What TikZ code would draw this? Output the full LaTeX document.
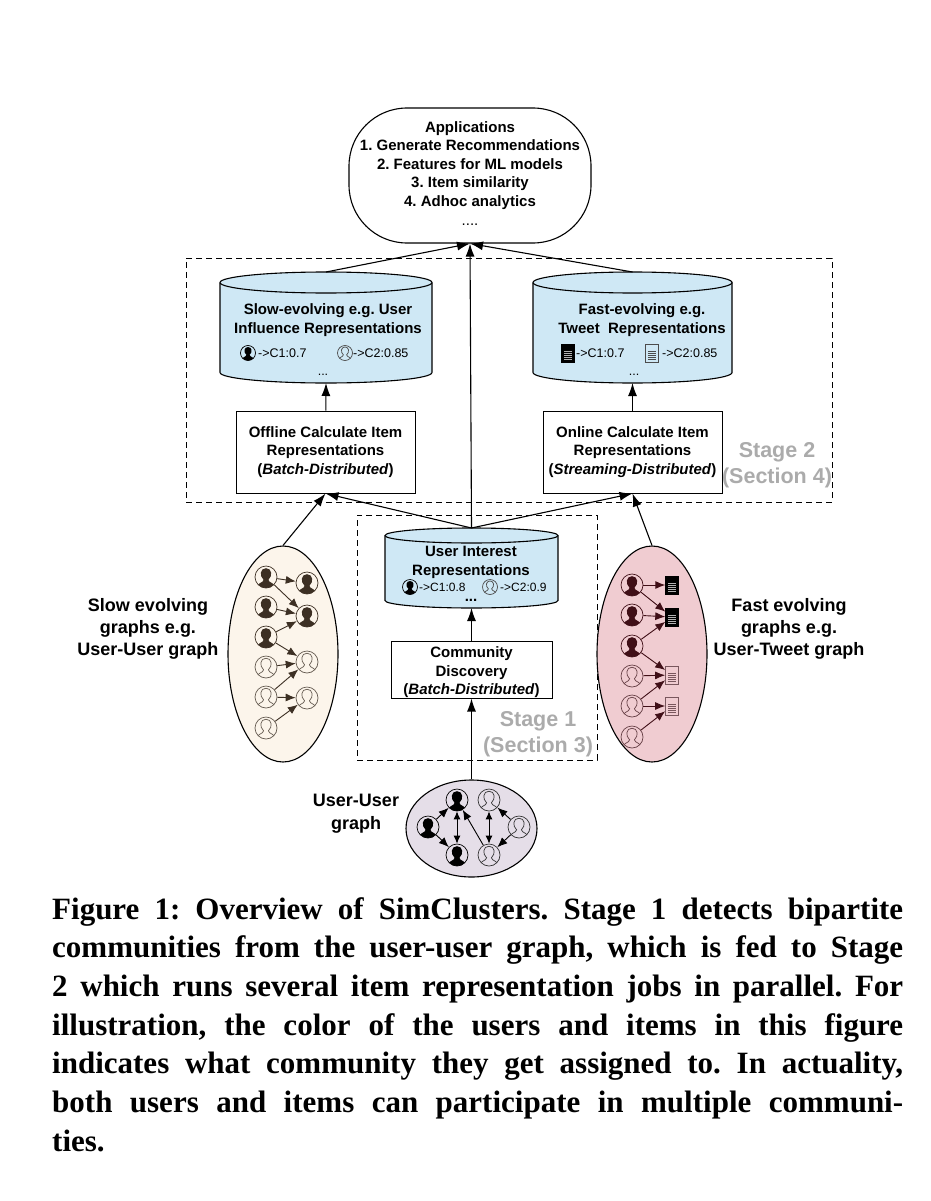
\documentclass[tikz,border=0pt]{standalone}
\usepackage{fontspec}
\setmainfont{Liberation Serif}
\setsansfont{Liberation Sans}
\usepackage{tikz}
\usetikzlibrary{arrows.meta}
\usetikzlibrary{shapes.geometric}
\definecolor{mblue}{rgb}{0.81, 0.91, 0.96}
\definecolor{mcream}{rgb}{0.99, 0.96, 0.92}
\definecolor{mpink}{rgb}{0.94, 0.80, 0.82}
\definecolor{mlilac}{rgb}{0.90, 0.87, 0.91}
\definecolor{mgray}{rgb}{0.67, 0.67, 0.67}
\definecolor{mbrown}{rgb}{0.24, 0.19, 0.14}
\definecolor{mwine}{rgb}{0.25, 0.06, 0.09}
\newcommand{\personicon}[2]{
  \begin{scope}[shift = {(path picture bounding box.center)}, x = #1, y = #1]
    \path [#2] (-0.88, -1.05) .. controls (-0.88, -0.5) and (-0.22, -0.55) .. (-0.22, -0.25)
      .. controls (-0.62, 0.1) and (-0.55, 0.8) .. (0, 0.8)
      .. controls (0.55, 0.8) and (0.62, 0.1) .. (0.22, -0.25)
      .. controls (0.22, -0.55) and (0.88, -0.5) .. (0.88, -1.05) -- cycle;
  \end{scope}
}
\newcommand{\doclines}[1]{
  \begin{scope}[shift = {(path picture bounding box.center)}, x = 1pt, y = 1pt]
    \foreach \ly in {-6, -4, -2, 0, 2} \draw [#1, line width = 0.8pt] (-4.2, \ly) -- (4.2, \ly);
  \end{scope}
}
\newcommand{\storeshape}[3]{
  \draw [storeline, fill = mblue] ([yshift = -#3] #1.north west)
    arc [start angle = 180, end angle = 0, x radius = #2, y radius = #3]
    -- ([yshift = #3] #1.south east)
    arc [start angle = 0, end angle = -180, x radius = #2, y radius = #3] -- cycle;
  \draw [storeline] ([yshift = -#3] #1.north west)
    arc [start angle = 180, end angle = 360, x radius = #2, y radius = #3];
}
\tikzset{
  userfull/.style 2 args = {circle, draw = #1, line width = 0.7pt, inner sep = 0, minimum size = 2*#2,
    path picture = {\personicon{#2}{fill = #1}}},
  userhollow/.style 2 args = {circle, draw = #1, line width = 0.7pt, inner sep = 0, minimum size = 2*#2,
    path picture = {\personicon{#2}{draw = #1, line width = 0.7pt}}},
  docfull/.style = {rectangle, draw = black, fill = black, inner sep = 0, minimum width = 13, minimum height = 18,
    path picture = {\doclines{white!70!black}
      \draw [white, line width = 0.8pt] ([shift = {(1.5, -2)}] path picture bounding box.north west) -- +(3, 0);}},
  dochollow/.style = {rectangle, draw = #1, line width = 0.7pt, inner sep = 0, minimum width = 13, minimum height = 18,
    path picture = {\doclines{#1}
      \draw [#1, line width = 0.6pt] ([shift = {(-4, 0)}] path picture bounding box.north east) -- +(0, -4) -- +(4, -4);}},
  label/.style = {font = \sffamily\bfseries\frenchspacing\fontsize{15}{18.5}\selectfont, align = center, inner sep = 0},
  itembox/.style = {label, rectangle, draw, fill = white, line width = 1pt},
  store/.style = {rectangle, inner sep = 0, outer sep = 0},
  storeline/.style = {line width = 1.1pt},
  stage/.style = {rectangle, draw, dash pattern = on 6pt off 4pt, line width = 1pt, inner sep = 0},
  stagetext/.style = {font = \sffamily\bfseries\fontsize{21.5}{25.5}\selectfont, text = mgray, align = center, inner sep = 0},
  score/.style = {font = \sffamily\fontsize{12.5}{14}\selectfont, anchor = west, inner sep = 0},
  graph/.style = {ellipse, draw, line width = 1.1pt, inner sep = 0},
  graphtext/.style = {font = \sffamily\bfseries\fontsize{18}{22}\selectfont, align = center, inner sep = 0},
  flow/.style = {-{Latex[length = 13pt, width = 9pt]}, line width = 1.1pt},
  link/.style = {-{Latex[length = 10pt, width = 8pt]}, line width = 0.9pt},
  twolink/.style = {{Latex[length = 8pt, width = 7pt]}-{Latex[length = 8pt, width = 7pt]}, line width = 0.9pt}
}
\begin{document}
\begin{tikzpicture}[x = 1pt, y = -1pt]
  \useasboundingbox (0, 0) rectangle (930, 1201);

  \node [stage, minimum width = 646, minimum height = 244] (stagetwo) at (509, 380) {};
  \node [stage, minimum width = 240, minimum height = 245] (stageone) at (477, 637.5) {};

  \node [draw, fill = white, line width = 1.1pt, rounded corners = 58, minimum width = 242, minimum height = 135] (apps) at (470, 175.5) {};
  \node [label] (appstext) at (470, 173.5)
    {Applications\\1. Generate Recommendations\\2. Features for ML models\\3. Item similarity\\4. Adhoc analytics\\[1pt]{\mdseries ....}};

  \node [store, minimum width = 212, minimum height = 111] (slowstore) at (326, 327.5) {};
  \node [store, minimum width = 199, minimum height = 111] (faststore) at (632.5, 327.5) {};
  \node [store, minimum width = 173, minimum height = 80] (userstore) at (471.5, 568) {};
  \storeshape{slowstore}{106pt}{10.5pt}
  \storeshape{faststore}{99.5pt}{10.5pt}
  \storeshape{userstore}{86.5pt}{7.5pt}

  \node [label] (slowtext) at (328, 320) {Slow-evolving e.g. User\\Influence Representations};
  \node [label] (fasttext) at (642, 320) {Fast-evolving e.g.\\Tweet\ \ Representations};
  \node [label] (usertext) at (471, 562.5) {User Interest\\Representations};

  \node [itembox, minimum width = 179, minimum height = 82] (offline) at (325.5, 452)
    {Offline Calculate Item\\Representations\\(\textit{Batch-Distributed})};
  \node [itembox, minimum width = 179, minimum height = 82] (online) at (632.5, 452)
    {Online Calculate Item\\Representations\\(\textit{Streaming-Distributed})};
  \node [itembox, minimum width = 161, minimum height = 57] (discovery) at (471.5, 669.5) {};
  \node [label] (discoverytext) at (471.5, 672.5) {Community\\Discovery\\(\textit{Batch-Distributed})};

  % scores in the three stores
  \node [userfull = {black}{7.5pt}] (slowa) at (248, 353) {};
  \node [score] (slowascore) at (258, 353) {->C1:0.7};
  \node [userhollow = {black!70}{7.5pt}] (slowb) at (345, 353) {};
  \node [score] (slowbscore) at (353, 353) {->C2:0.85};
  \node [score, anchor = center] (slowdots) at (323, 375) {...};

  \node [docfull] (fasta) at (568, 353) {};
  \node [score] (fastascore) at (576, 353) {->C1:0.7};
  \node [dochollow = {black!70}] (fastb) at (652, 353) {};
  \node [score] (fastbscore) at (662, 353) {->C2:0.85};
  \node [score, anchor = center] (fastdots) at (634, 375) {...};

  \node [userfull = {black}{7.5pt}] (usera) at (410, 587) {};
  \node [score, font = \sffamily\fontsize{12}{14}\selectfont] (userascore) at (419, 587) {->C1:0.8};
  \node [userhollow = {black!70}{7.5pt}] (userb) at (490, 587) {};
  \node [score, font = \sffamily\fontsize{12}{14}\selectfont] (userbscore) at (500, 587) {->C2:0.9};
  \node [score, anchor = center, font = \sffamily\bfseries\fontsize{15}{18}\selectfont] (userdots) at (471, 600) {...};

  \node [stagetext] (stagetwotext) at (777, 465) {Stage 2\\(Section 4)};
  \node [stagetext] (stageonetext) at (538, 734) {Stage 1\\(Section 3)};

  \node [graph, fill = mcream, minimum width = 110, minimum height = 216] (slowgraph) at (283, 654) {};
  \node [graph, fill = mpink, minimum width = 110, minimum height = 216] (fastgraph) at (652, 654) {};
  \node [graph, fill = mlilac, minimum width = 131, minimum height = 97] (usergraph) at (471.5, 828.5) {};

  \node [graphtext] (slowname) at (148, 629) {Slow evolving\\graphs e.g.\\User-User graph};
  \node [graphtext] (fastname) at (789, 629) {Fast evolving\\graphs e.g.\\User-Tweet graph};
  \node [graphtext, font = \sffamily\bfseries\fontsize{18}{23}\selectfont] (username) at (356, 814) {User-User\\graph};

  % slow evolving graph
  \foreach \name/\py in {sa/577, sb/607, sc/637}
    \node [userfull = {mbrown}{11pt}] (\name) at (266, \py) {};
  \foreach \name/\py in {sd/667, se/697, sf/728}
    \node [userhollow = {mbrown!80}{11pt}] (\name) at (266, \py) {};
  \foreach \name/\py in {sp/583, sq/616}
    \node [userfull = {mbrown}{11pt}] (\name) at (307, \py) {};
  \foreach \name/\py in {sr/662, ss/698}
    \node [userhollow = {mbrown!80}{11pt}] (\name) at (307, \py) {};
  \foreach \from/\to in {sa/sp, sa/sq, sb/sq, sc/sq, sc/sr, sd/sr, se/sr, se/ss, sf/ss}
    \draw [link, mbrown] (\from) -- (\to);

  % fast evolving graph
  \foreach \name/\py in {fa/585, fb/615, fc/646}
    \node [userfull = {mwine}{11pt}] (\name) at (632, \py) {};
  \foreach \name/\py in {fd/676, fe/706, ff/737}
    \node [userhollow = {mwine!80}{11pt}] (\name) at (632, \py) {};
  \foreach \name/\py in {fp/585, fq/617}
    \node [docfull] (\name) at (672, \py) {};
  \foreach \name/\py in {fr/675, fs/706}
    \node [dochollow = {mwine!70}] (\name) at (672, \py) {};
  \foreach \from/\to in {fa/fp, fa/fq, fb/fq, fc/fq, fc/fr, fd/fr, fe/fr, fe/fs, ff/fs}
    \draw [link, mwine] (\from) -- (\to);

  % user-user graph
  \node [userfull = {black}{11pt}] (ua) at (457, 800) {};
  \node [userfull = {black}{11pt}] (ub) at (428, 827) {};
  \node [userfull = {black}{11pt}] (uc) at (457, 855) {};
  \node [userhollow = {black!80}{11pt}] (ud) at (489, 800) {};
  \node [userhollow = {black!80}{11pt}] (ue) at (519, 827) {};
  \node [userhollow = {black!80}{11pt}] (uf) at (489, 855) {};
  \draw [link] (ub) -- (ua);
  \draw [link] (ub) -- (uc);
  \draw [twolink] (ua) -- (uc);
  \draw [link] (uf) -- (ua);
  \draw [twolink] (ud) -- (uf);
  \draw [link] (ue) -- (ud);
  \draw [link] (ue) -- (uf);

  % main flow
  \draw [flow] (slowstore.north) -- (apps.south);
  \draw [flow] (faststore.north) -- (apps.south);
  \draw [flow] (userstore.north) -- (apps.south);
  \draw [flow] (offline) -- (slowstore.south);
  \draw [flow] (online) -- (faststore.south);
  \draw [flow] (userstore.north) -- (offline.south);
  \draw [flow] (userstore.north) -- (online.south);
  \draw [flow] (discovery) -- (userstore.south);
  \draw [flow] (usergraph) -- (discovery);
  \draw [flow] (slowgraph.north) -- (offline.south);
  \draw [flow] (fastgraph.north) -- (online.south);

  \node [anchor = north west, text width = 851, align = justify, inner sep = 0,
    font = \bfseries\frenchspacing\fontsize{31}{38.7}\selectfont] (caption) at (52, 897)
    {Figure 1: Overview of SimClusters. Stage 1 detects bipartite\linebreak
    communities from the user-user graph, which is fed to Stage\linebreak
    2 which runs several item representation jobs in parallel. For\linebreak
    illustration, the color of the users and items in this figure\linebreak
    indicates what community they get assigned to. In actuality,\linebreak
    both users and items can participate in multiple communi-\linebreak
    ties.};
\end{tikzpicture}
\end{document}
